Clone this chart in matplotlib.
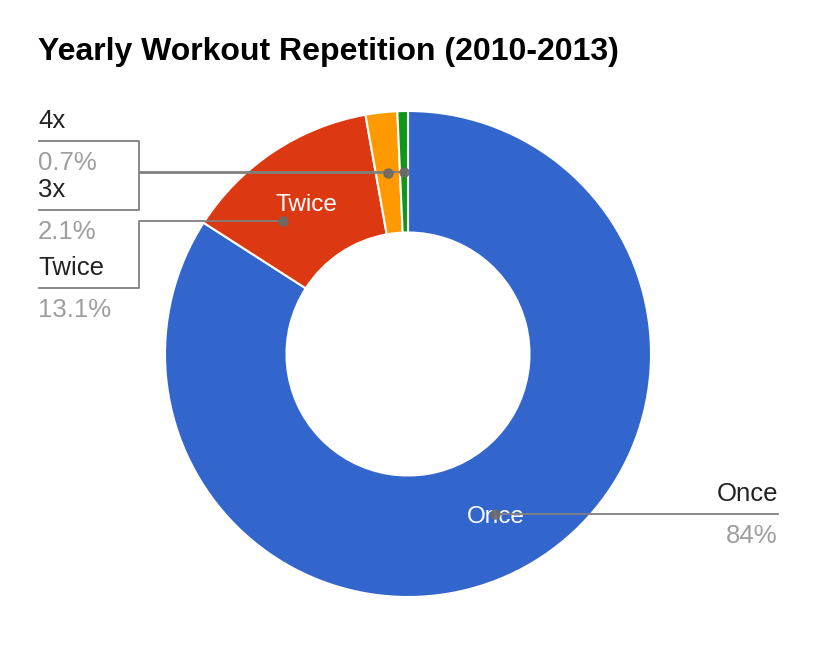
import numpy as np
import matplotlib

matplotlib.use("Agg")
import matplotlib.pyplot as plt

plt.rcParams["font.family"] = ["Liberation Sans", "DejaVu Sans"]

# data
categories = ["Once", "Twice", "3x", "4x"]
shares = [84.0, 13.1, 2.1, 0.7]
pct_labels = ["84%", "13.1%", "2.1%", "0.7%"]
colors = ["#3366cc", "#dc3912", "#ff9900", "#109618"]
inner_labels = ["Once", "Twice", "", ""]
# where along each slice the leader dot sits (0 = start, 1 = end)
anchor_pos = [0.5, 0.3, 0.5, 0.5]

W, H = 824, 660
cx, cy = 408, H - 354
R = 243
ring = 121.5
r_mid = R - ring / 2

fig = plt.figure(figsize=(W / 100, H / 100), dpi=100)
ax = fig.add_axes([0, 0, 1, 1])

ax.pie(
    shares,
    colors=colors,
    startangle=90,
    counterclock=False,
    radius=R,
    center=(cx, cy),
    wedgeprops=dict(width=ring, edgecolor="white", linewidth=1.5),
)
ax.set_xlim(0, W)
ax.set_ylim(0, H)
ax.set_aspect("equal")
ax.axis("off")

total = sum(shares)
starts = np.concatenate([[0], np.cumsum(shares)[:-1]]) / total
fracs = np.array(shares) / total


def ring_point(frac, r=r_mid):
    theta = np.deg2rad(90 - 360 * frac)
    return cx + r * np.cos(theta), cy + r * np.sin(theta)


# labels inside the ring
for i, lab in enumerate(inner_labels):
    if not lab:
        continue
    x, y = ring_point(starts[i] + fracs[i] / 2)
    ax.text(x, y - 3, lab, color="white", fontsize=17.5, ha="center", va="center")

line_c = "#808080"
dot_c = "#6a6a6a"
lab_c = "#222222"
pct_c = "#9e9e9e"
fs = 18.5

# callout layout: (line y in px from top, elbow x, end x, side)
callouts = {
    "Once": (None, None, 778, "right"),
    "Twice": (288, 139, 39, "left"),
    "3x": (210, 139, 39, "left"),
    "4x": (141, 139, 39, "left"),
}

for i, cat in enumerate(categories):
    dx, dy = ring_point(starts[i] + fracs[i] * anchor_pos[i])
    line_y, elbow_x, end_x, side = callouts[cat]
    if side == "right":
        ax.plot([dx, end_x], [dy, dy], color=line_c, lw=1.3, zorder=3)
        ly = dy
        ax.text(end_x, ly + 13, cat, color=lab_c, fontsize=fs, ha="right", va="baseline")
        ax.text(end_x, ly - 29, pct_labels[i], color=pct_c, fontsize=fs, ha="right", va="baseline")
    else:
        ly = H - line_y
        ax.plot([dx, elbow_x, elbow_x, end_x], [dy, dy, ly, ly], color=line_c, lw=1.3, zorder=3)
        ax.text(end_x - 1, ly + 13, cat, color=lab_c, fontsize=fs, ha="left", va="baseline")
        ax.text(end_x - 1, ly - 29, pct_labels[i], color=pct_c, fontsize=fs, ha="left", va="baseline")
    ax.plot(dx, dy, "o", color=dot_c, markersize=6.5, alpha=0.9, zorder=4)

ax.text(38, H - 60, "Yearly Workout Repetition (2010-2013)", fontsize=23,
        fontweight="bold", color="black", ha="left", va="baseline")

plt.savefig("out.png", dpi=100)
